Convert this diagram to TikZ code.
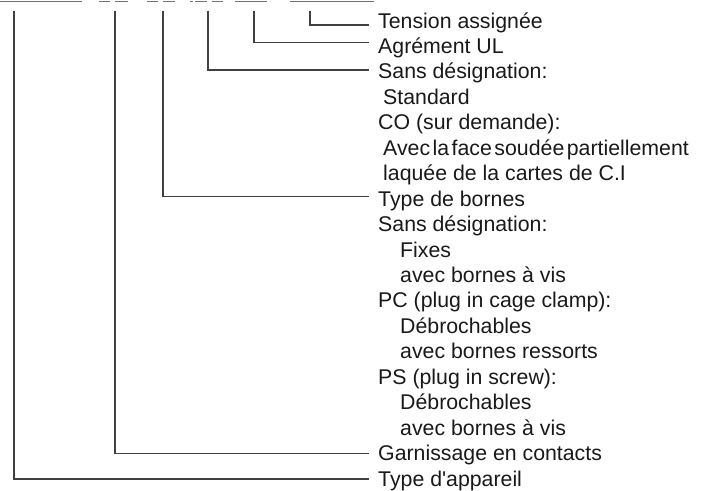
\documentclass[tikz,border=0pt]{standalone}
\usepackage{fontspec}
\setmainfont{Liberation Sans}
\newfontfamily\plainsans{Liberation Sans}[Ligatures=ResetAll]
\begin{document}
\begin{tikzpicture}[x=1pt,y=-1pt,
  lbl/.style={anchor=base west,inner sep=0pt,font=\fontsize{21.3}{25}\selectfont,text=black!90},
  conn/.style={draw=black!75,line width=1.1pt},
  topseg/.style={draw=black!55,line width=1pt}]
\useasboundingbox (0,0) rectangle (704,490);
% cut-off reference string at the top
\foreach \a/\b in {0/82,99/110,115/128,147/158,163/175,190/193,195/207,212/223,235/267,290/374}
  \draw[topseg] (\a,1.5) -- (\b,1.5);
% labels
\def\tx{378}
\def\dy{25.45}
\foreach \i/\t in {0/{Tension assignée},
  1/{Agrément UL},
  2/{Sans désignation:},
  3/{\hspace{5pt}Standard},
  4/{CO (sur demande):},
  5/{\hspace{5pt}Avec\hspace{2.5pt}la\hspace{2.5pt}face\hspace{2.5pt}soudée\hspace{2.5pt}partiellement},
  6/{\hspace{5pt}laquée de la cartes de C.I},
  7/{Type de bornes},
  8/{Sans désignation:},
  9/{\hspace{22pt}Fixes},
  10/{\hspace{22pt}avec bornes à vis},
  11/{PC (plug in cage clamp):},
  12/{\hspace{22pt}Débrochables},
  13/{\hspace{22pt}avec bornes ressorts},
  14/{PS (plug in screw):},
  15/{\hspace{22pt}Débrochables},
  16/{\hspace{22pt}avec bornes à vis},
  17/{Garnissage en contacts},
  18/{\plainsans Type d'appareil}}
  \node[lbl] (t\i) at (\tx,{28+\i*\dy}) {\t};
% connector ends
\coordinate (s0) at (310,10.5);
\coordinate (s1) at (254,10.5);
\coordinate (s2) at (208,10.5);
\coordinate (s3) at (163,10.5);
\coordinate (s4) at (115,10.5);
\coordinate (s5) at (14,10.5);
\coordinate (e0) at (369,25);
\coordinate (e1) at (369,42.3);
\coordinate (e2) at (369,70);
\coordinate (e3) at (369,196.7);
\coordinate (e4) at (369,453.3);
\coordinate (e5) at (369,479);
\draw[conn] (s0) |- (e0);
\draw[conn] (s1) |- (e1);
\draw[conn] (s2) |- (e2);
\draw[conn] (s3) |- (e3);
\draw[conn] (s4) |- (e4);
\draw[conn] (s5) |- (e5);
\end{tikzpicture}
\end{document}
